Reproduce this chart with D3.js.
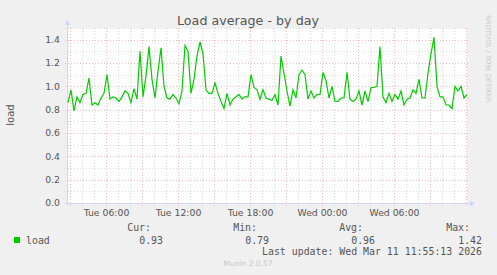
<!DOCTYPE html>
<html>
<head>
<meta charset="utf-8">
<script src="https://cdn.jsdelivr.net/npm/d3@7"></script>
<style>
  html, body { margin: 0; padding: 0; background: #f0f0f0; }
  svg { display: block; }
</style>
</head>
<body>
<div id="chart"></div>
<script>
// DATA ************************************************************
const graphTitle = "Load average - by day";
const unitLabel = "load";
const seriesName = "load";
const startTime = new Date(2026, 2, 10, 2, 50); // first sample
const stepMinutes = 15;
// load values, one every 15 minutes
const loadValues = [
  0.86, 0.97, 0.79, 0.91, 0.86, 0.93, 0.94, 1.07, 0.84, 0.86,
  0.84, 0.90, 0.94, 1.10, 0.89, 0.91, 0.90, 0.87, 0.91, 0.96,
  0.94, 0.86, 0.98, 0.89, 1.30, 0.91, 1.09, 1.34, 1.06, 0.90,
  1.13, 1.33, 1.00, 0.90, 0.89, 0.93, 0.90, 0.85, 0.96, 1.35,
  1.30, 0.94, 1.06, 1.26, 1.38, 1.28, 0.97, 0.94, 0.94, 1.03,
  0.94, 0.87, 0.81, 0.94, 0.84, 0.89, 0.91, 0.93, 0.89, 0.91,
  0.91, 1.10, 0.99, 0.97, 0.89, 0.97, 0.90, 0.89, 0.88, 0.93,
  0.84, 1.26, 1.11, 0.96, 0.83, 0.97, 0.90, 1.10, 1.14, 1.10,
  0.89, 0.96, 0.90, 0.93, 0.93, 1.12, 1.05, 0.90, 1.00, 0.87,
  0.87, 0.90, 0.90, 1.12, 0.89, 0.87, 0.89, 0.96, 0.84, 0.96,
  0.87, 0.99, 0.99, 1.00, 1.34, 0.91, 0.86, 0.94, 0.87, 0.93,
  0.89, 0.96, 0.84, 0.89, 0.90, 0.97, 0.94, 1.06, 0.90, 0.90,
  1.11, 1.28, 1.42, 1.00, 0.91, 0.91, 0.84, 0.84, 0.81, 1.00,
  0.96, 1.00, 0.90, 0.93
];
const yTickValues = [0, 0.2, 0.4, 0.6, 0.8, 1.0, 1.2, 1.4];
const yTickLabels = ["0.0", "0.2", "0.4", "0.6", "0.8", "1.0", "1.2", "1.4"];
const xTickTimes = [
  new Date(2026, 2, 10, 6), new Date(2026, 2, 10, 12), new Date(2026, 2, 10, 18),
  new Date(2026, 2, 11, 0), new Date(2026, 2, 11, 6)
];
const xTickLabels = ["Tue 06:00", "Tue 12:00", "Tue 18:00", "Wed 00:00", "Wed 06:00"];
const legendHeaders = ["Cur:", "Min:", "Avg:", "Max:"];
const legendValues = ["0.93", "0.79", "0.96", "1.42"];
const lastUpdate = "Last update: Wed Mar 11 11:55:13 2026";
const footer = "Munin 2.0.57";
const watermark = "RRDTOOL / TOBI OETIKER";

// LAYOUT **********************************************************
const W = 497, H = 275;
const plotL = 67, plotR = 467, plotT = 28, plotB = 203;
const sans = "'DejaVu Sans', sans-serif";
const mono = "'DejaVu Sans Mono', monospace";
const fontColor = "#555";
const minorColor = "#dadada", majorColor = "#f6bcbc";

const svg = d3.select("#chart").append("svg")
  .attr("width", W).attr("height", H);

svg.append("rect").attr("width", W).attr("height", H).attr("fill", "#f0f0f0");
svg.append("rect")
  .attr("x", plotL).attr("y", plotT)
  .attr("width", plotR - plotL).attr("height", plotB - plotT)
  .attr("fill", "#ffffff");

// SCALES **********************************************************
const x = d3.scaleTime()
  .domain([new Date(2026, 2, 10, 2, 45), new Date(2026, 2, 11, 12, 5)])
  .range([plotL, plotR]);
const y = d3.scaleLinear().domain([0, 1.5]).range([plotB, plotT]);

// GRID ************************************************************
const grid = svg.append("g").attr("shape-rendering", "crispEdges");
const yMinor = d3.range(1, 16).map(d => d / 10);
yMinor.forEach(v => {
  const major = Math.round(v * 10) % 2 === 0;
  const py = Math.round(y(v)) + 0.5;
  grid.append("line")
    .attr("x1", plotL - 2).attr("x2", plotR + 2)
    .attr("y1", py).attr("y2", py)
    .attr("stroke", major ? majorColor : minorColor)
    .attr("stroke-dasharray", "1,2");
});
const hours = d3.timeHour.range(x.domain()[0], x.domain()[1]);
hours.forEach(t => {
  const major = t.getHours() % 3 === 0;
  const px = Math.round(x(t)) + 0.5;
  grid.append("line")
    .attr("x1", px).attr("x2", px)
    .attr("y1", plotT).attr("y2", plotB + 3)
    .attr("stroke", major ? majorColor : minorColor)
    .attr("stroke-dasharray", "1,2");
});

// AXES ************************************************************
const axisColor = "#cfd6f8";
svg.append("line").attr("x1", plotL + 0.5).attr("x2", plotL + 0.5)
  .attr("y1", plotB + 2).attr("y2", plotT - 4)
  .attr("stroke", axisColor);
svg.append("path")
  .attr("d", `M${plotL - 2.5},${plotT - 3} L${plotL + 3.5},${plotT - 3} L${plotL + 0.5},${plotT - 8} Z`)
  .attr("fill", axisColor);
svg.append("line").attr("x1", plotL - 2).attr("x2", plotR + 4)
  .attr("y1", plotB + 0.5).attr("y2", plotB + 0.5)
  .attr("stroke", axisColor);
svg.append("path")
  .attr("d", `M${plotR + 3},${plotB - 2.5} L${plotR + 3},${plotB + 3.5} L${plotR + 8},${plotB + 0.5} Z`)
  .attr("fill", axisColor);

const yAxis = d3.axisLeft(y).tickValues(yTickValues)
  .tickFormat((d, i) => yTickLabels[i]).tickSize(0).tickPadding(7);
const gy = svg.append("g").attr("transform", `translate(${plotL},0)`).call(yAxis);
gy.select(".domain").remove();
gy.selectAll("text").attr("font-family", sans).attr("font-size", "9.3px")
  .attr("fill", fontColor);

const xAxis = d3.axisBottom(x).tickValues(xTickTimes)
  .tickFormat((d, i) => xTickLabels[i]).tickSize(0).tickPadding(6);
const gx = svg.append("g").attr("transform", `translate(0,${plotB})`).call(xAxis);
gx.select(".domain").remove();
gx.selectAll("text").attr("font-family", sans).attr("font-size", "9.3px")
  .attr("fill", fontColor);

// LINE ************************************************************
const points = loadValues.map((v, i) => ({
  t: new Date(startTime.getTime() + i * stepMinutes * 60000), v: v
}));
const line = d3.line().x(d => x(d.t)).y(d => y(d.v));
svg.append("path").datum(points)
  .attr("d", line)
  .attr("fill", "none")
  .attr("stroke", "#00cc00")
  .attr("stroke-width", 1.2);

// TEXTS ***********************************************************
svg.append("text").attr("x", 248).attr("y", 25)
  .attr("text-anchor", "middle").attr("font-family", sans)
  .attr("font-size", "12.7px").attr("fill", fontColor).text(graphTitle);

svg.append("text").attr("transform", "translate(14,115) rotate(-90)")
  .attr("text-anchor", "middle").attr("font-family", sans)
  .attr("font-size", "10px").attr("fill", fontColor).text(unitLabel);

svg.append("text").attr("transform", "translate(486,15) rotate(90)")
  .attr("font-family", sans).attr("font-size", "6.8px")
  .attr("fill", "#c8c8c8").text(watermark);

// LEGEND **********************************************************
const colEnds = [151, 257, 363, 470];
legendHeaders.forEach((h, i) => {
  svg.append("text").attr("x", colEnds[i]).attr("y", 231)
    .attr("text-anchor", "end").attr("font-family", mono)
    .attr("font-size", "9.9px").attr("fill", fontColor).text(h);
  svg.append("text").attr("x", colEnds[i] + 12).attr("y", 244)
    .attr("text-anchor", "end").attr("font-family", mono)
    .attr("font-size", "9.9px").attr("fill", fontColor).text(legendValues[i]);
});
svg.append("rect").attr("x", 14).attr("y", 237).attr("width", 6).attr("height", 6)
  .attr("fill", "#00cc00");
svg.append("text").attr("x", 26).attr("y", 244)
  .attr("font-family", mono).attr("font-size", "9.9px")
  .attr("fill", fontColor).text(seriesName);
svg.append("text").attr("x", 482).attr("y", 255)
  .attr("text-anchor", "end").attr("font-family", mono)
  .attr("font-size", "9.9px").attr("fill", fontColor).text(lastUpdate);
svg.append("text").attr("x", 248).attr("y", 266)
  .attr("text-anchor", "middle").attr("font-family", sans)
  .attr("font-size", "7.5px").attr("fill", "#c8c8c8").text(footer);
</script>
</body>
</html>
